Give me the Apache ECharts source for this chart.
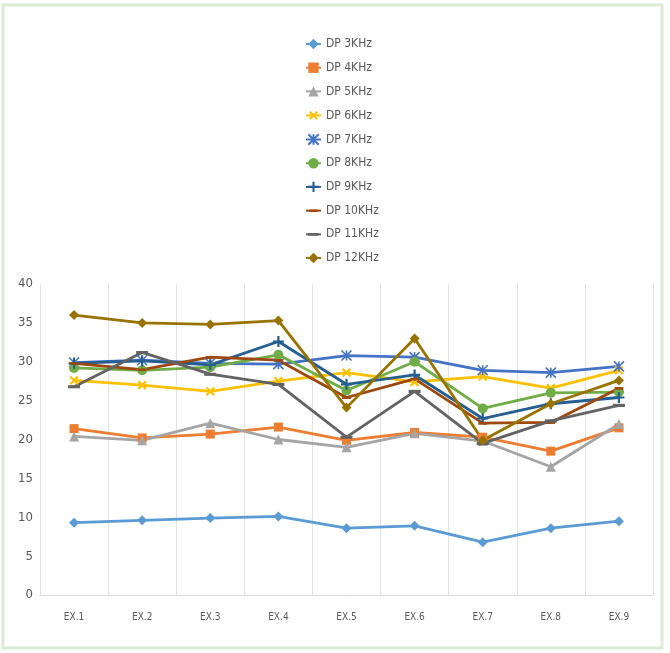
<!DOCTYPE html>
<html lang="en">
<head>
    <meta charset="UTF-8">
    <title>DP chart</title>
    <script src="https://cdn.jsdelivr.net/npm/echarts@6/dist/echarts.min.js"></script>
    <style>
        body, html {
            margin: 0;
            padding: 0;
            background-color: #ffffff;
        }
        #chart {
            width: 670px;
            height: 653px;
        }
    </style>
</head>
<body>
    <div id="chart"></div>

    <script>
        const categories = ['EX.1', 'EX.2', 'EX.3', 'EX.4', 'EX.5', 'EX.6', 'EX.7', 'EX.8', 'EX.9'];

        const dp3 = [9.3, 9.6, 9.9, 10.1, 8.6, 8.9, 6.8, 8.6, 9.5];
        const dp4 = [21.4, 20.2, 20.7, 21.6, 19.9, 20.9, 20.3, 18.5, 21.5];
        const dp5 = [20.4, 19.9, 22.1, 20.0, 19.0, 20.8, 19.8, 16.5, 22.0];
        const dp6 = [27.6, 27.0, 26.2, 27.5, 28.6, 27.4, 28.1, 26.6, 28.9];
        const dp7 = [29.9, 30.2, 29.8, 29.7, 30.8, 30.6, 28.9, 28.6, 29.4];
        const dp8 = [29.2, 28.9, 29.3, 30.9, 26.3, 30.0, 24.0, 26.0, 26.1];
        const dp9 = [29.8, 30.1, 29.6, 32.6, 27.1, 28.3, 22.7, 24.6, 25.4];
        const dp10 = [29.8, 29.0, 30.6, 30.2, 25.4, 27.8, 22.1, 22.2, 26.6];
        const dp11 = [26.8, 31.2, 28.4, 27.1, 20.3, 26.2, 19.5, 22.4, 24.4];
        const dp12 = [36.0, 35.0, 34.8, 35.3, 24.1, 33.0, 19.9, 24.6, 27.6];

        const seriesNames = ['DP 3KHz', 'DP 4KHz', 'DP 5KHz', 'DP 6KHz', 'DP 7KHz', 'DP 8KHz', 'DP 9KHz', 'DP 10KHz', 'DP 11KHz', 'DP 12KHz'];
        const seriesData = [dp3, dp4, dp5, dp6, dp7, dp8, dp9, dp10, dp11, dp12];
        const colors = ['#5b9bd5', '#ed7d31', '#a5a5a5', '#ffc000', '#4472c4', '#70ad47', '#255e91', '#9e480e', '#636363', '#997300'];

        // marker shapes, Excel style (dash paths padded to a square box so the legend keeps them flat)
        const plusPath = 'path://M4,0H6V4H10V6H6V10H4V6H0V4H4Z';
        const starPath = 'path://M0,0L10,10M10,0L0,10M5,0L5,10';
        const shortDash = 'path://M0,0L0,0M1,4H9V6.4H1ZM10,10L10,10';
        const longDash = 'path://M0,0L0,0M0,3.8H10V6.4H0ZM10,10L10,10';
        const markers = [
            { symbol: 'diamond', size: 10 },
            { symbol: 'rect', size: 9 },
            { symbol: 'triangle', size: 10 },
            { symbol: plusPath, size: 11, rotate: 45 },
            { symbol: starPath, size: 10, stroke: true },
            { symbol: 'circle', size: 10 },
            { symbol: plusPath, size: 11 },
            { symbol: shortDash, size: 11 },
            { symbol: longDash, size: 12 },
            { symbol: 'diamond', size: 10 }
        ];

        const labelFont = "'DejaVu Sans Condensed', 'Liberation Sans', sans-serif";

        const chart = echarts.init(document.getElementById('chart'));

        const series = seriesNames.map((name, i) => {
            const m = markers[i];
            return {
                name: name,
                type: 'line',
                data: seriesData[i],
                symbol: m.symbol,
                symbolSize: m.size,
                symbolRotate: m.rotate || 0,
                showAllSymbol: true,
                lineStyle: { color: colors[i], width: 2.8 },
                itemStyle: m.stroke
                    ? { color: colors[i], borderColor: colors[i], borderWidth: 1.6 }
                    : { color: colors[i], borderWidth: 0 }
            };
        });

        const option = {
            animation: false,
            color: colors,
            graphic: [{
                type: 'rect',
                shape: { x: 3, y: 5, width: 659, height: 643 },
                style: { fill: 'none', stroke: '#dcebd5', lineWidth: 3 },
                z: -1
            }],
            legend: {
                orient: 'vertical',
                left: 300,
                top: 32,
                itemWidth: 15,
                itemHeight: 13,
                itemGap: 9.7,
                textStyle: { color: '#595959', fontSize: 12, lineHeight: 14, fontFamily: labelFont },
                data: seriesNames
            },
            grid: {
                left: 40,
                right: 17,
                top: 284,
                bottom: 58
            },
            xAxis: {
                type: 'category',
                data: categories,
                boundaryGap: true,
                axisTick: { show: false },
                axisLine: { lineStyle: { color: '#d9d9d9', width: 1 } },
                splitLine: { show: true, lineStyle: { color: '#e3e3e3', width: 1 } },
                axisLabel: { color: '#595959', fontSize: 10, margin: 17, fontFamily: labelFont }
            },
            yAxis: {
                type: 'value',
                min: 0,
                max: 40,
                interval: 5,
                axisLine: { show: false },
                axisTick: { show: false },
                splitLine: { show: false },
                axisLabel: { color: '#595959', fontSize: 13, margin: 7, fontFamily: labelFont }
            },
            series: series
        };
        chart.setOption(option);
    </script>
</body>
</html>
